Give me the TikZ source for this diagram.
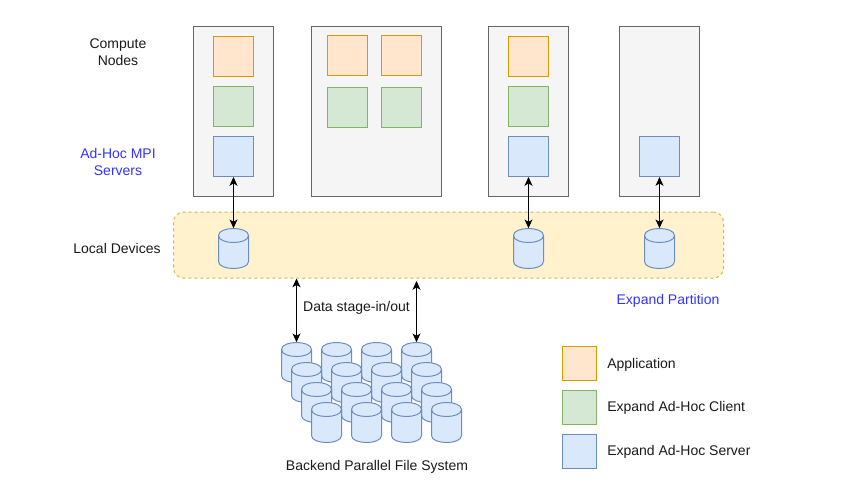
\documentclass[tikz,border=0pt]{standalone}
\usepackage{fontspec}
\setmainfont{Liberation Sans}
\usetikzlibrary{arrows.meta}
\definecolor{orF}{HTML}{FFE6CC}\definecolor{orD}{HTML}{D79B00}
\definecolor{grF}{HTML}{D5E8D4}\definecolor{grD}{HTML}{82B366}
\definecolor{blF}{HTML}{DAE8FC}\definecolor{blD}{HTML}{6C8EBF}
\definecolor{hostF}{HTML}{F5F5F5}\definecolor{hostD}{HTML}{666666}
\definecolor{bandF}{HTML}{FFF2CC}\definecolor{bandD}{HTML}{D6B656}
\definecolor{txt}{HTML}{1A1A1A}\definecolor{hl}{HTML}{3333FF}
\tikzset{
  px/.style={x=0.75pt,y=-0.75pt},
  hostbox/.style={draw=hostD,fill=hostF,line width=0.75pt,minimum width=60pt,minimum height=127.5pt,inner sep=0pt},
  widehost/.style={hostbox,minimum width=97.5pt},
  sq/.style={line width=0.75pt,inner sep=0pt,minimum size=30pt},
  appbox/.style={sq,draw=orD,fill=orF},
  clibox/.style={sq,draw=grD,fill=grF},
  srvbox/.style={sq,draw=blD,fill=blF},
  appleg/.style={appbox,minimum size=25.5pt},
  clileg/.style={clibox,minimum size=25.5pt},
  srvleg/.style={srvbox,minimum size=25.5pt},
  band/.style={draw=bandD,fill=bandF,line width=0.75pt,dash pattern=on 2.25pt off 2.25pt,rounded corners=7.5pt,minimum width=412.5pt,minimum height=49.5pt,inner sep=0pt},
  label/.style={text=txt,align=center,inner sep=0pt,font=\fontsize{10.5}{12.75}\selectfont},
  hlabel/.style={label,text=hl},
  leglabel/.style={label,anchor=west},
  link/.style={line width=0.75pt,black,{Stealth[length=6.6pt,width=6pt,inset=1.8pt]}-{Stealth[length=6.6pt,width=6pt,inset=1.8pt]}},
  cylanchor/.style={inner sep=0pt,minimum width=22.5pt,minimum height=30pt},
  cylline/.style={draw=blD,fill=blF,line width=0.75pt}
}
% \cyl{name}{cx}{cy}: 30x40 px cylinder around centre
\newcommand{\cyl}[3]{%
  \begin{scope}[shift={(#2-15,#3-20)}]
    \path[cylline] (0,7) .. controls (0,-2.33) and (30,-2.33) .. (30,7) -- (30,33)
      .. controls (30,42.33) and (0,42.33) .. (0,33) -- cycle;
    \path[draw=blD,line width=0.75pt] (0,7) .. controls (0,16.33) and (30,16.33) .. (30,7);
  \end{scope}
  \node[cylanchor] (#1) at (#2,#3) {};}
\begin{document}
\begin{tikzpicture}[px]
\useasboundingbox (0,0) rectangle (864,486);
% hosts
\node[hostbox] (h1) at (233.5,111.5) {};
\node[widehost] (h2) at (376.5,111.5) {};
\node[hostbox] (h3) at (528.5,111.5) {};
\node[hostbox] (h4) at (659.5,111.5) {};
\node[appbox] (a1) at (233.5,56.5) {};
\node[clibox] (c1) at (233.5,106.5) {};
\node[srvbox] (s1) at (233.5,156.5) {};
\node[appbox] (a2l) at (347.5,55.5) {};
\node[appbox] (a2r) at (401.5,55.5) {};
\node[clibox] (c2l) at (347.5,107.5) {};
\node[clibox] (c2r) at (401.5,107.5) {};
\node[appbox] (a3) at (528.5,56.5) {};
\node[clibox] (c3) at (528.5,106.5) {};
\node[srvbox] (s3) at (528.5,156.5) {};
\node[srvbox] (s4) at (659.5,156.5) {};
% band
\node[band] (bnd) at (448.5,245) {};
\cyl{d1}{233.5}{248.5}
\cyl{d3}{528.5}{248.5}
\cyl{d4}{659.5}{248.5}
% backend
\foreach \r/\ox/\oy in {1/296.5/362.5,2/306.5/382.5,3/316.5/402.5,4/326.5/422.5}{
  \foreach \c in {1,2,3,4}{
    \pgfmathsetmacro{\cx}{\ox+(\c-1)*40}
    \cyl{p\r\c}{\cx}{\oy}
  }
}
% connectors
\draw[link] (s1.south) -- (d1.north);
\draw[link] (s3.south) -- (d3.north);
\draw[link] (s4.south) -- (d4.north);
\coordinate (b2) at (416.5,281);
\draw[link] (bnd.south -| p11.north) -- (p11.north);
\draw[link] (b2) -- (p14.north);
% labels
\node[label] (lc) at (118,52.5) {Compute\\Nodes};
\node[hlabel] (lm) at (118,162) {Ad-Hoc MPI\\Servers};
\node[label] (ll) at (117,248) {Local Devices};
\node[label] (ld) at (356.5,308) {Data stage-in/out};
\node[label] (lb) at (377,467) {Backend Parallel File System};
\node[hlabel] (le) at (668,301) {Expand Partition};
% legend
\node[appleg] (k1) at (579.5,363.5) {};
\node[clileg] (k2) at (579.5,407.5) {};
\node[srvleg] (k3) at (579.5,451.3) {};
\node[leglabel] (t1l) at (607,364.5) {Application};
\node[leglabel] (t2l) at (607,408) {Expand Ad-Hoc Client};
\node[leglabel] (t3l) at (607,452) {Expand Ad-Hoc Server};
\end{tikzpicture}
\end{document}
